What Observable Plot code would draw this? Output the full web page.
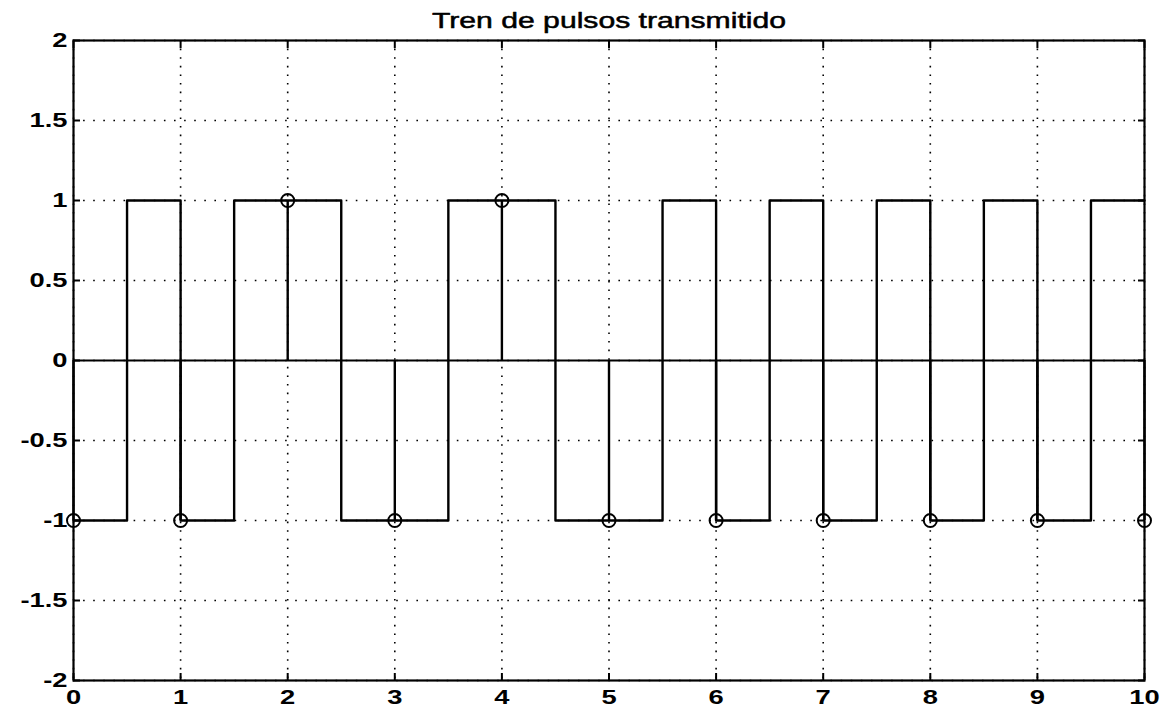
<!DOCTYPE html>
<html>
<head>
<meta charset="utf-8">
<script src="https://cdn.jsdelivr.net/npm/d3@7"></script>
<script src="https://cdn.jsdelivr.net/npm/@observablehq/plot@0.6"></script>
<style>
  html, body { margin: 0; padding: 0; background: #fff; }
  svg { display: block; }
  svg text { font-size: 21px; font-family: 'Liberation Sans', Arial, Helvetica, sans-serif; }
  svg text.title-text { font-size: 22px; }
</style>
</head>
<body>
<div id="chart"></div>
<script>
// Square wave (step-after): transition instants and levels
const waveX = [0, 0.5, 1, 1.5, 2.5, 3.5, 4.5, 5.5, 6, 6.5, 7, 7.5, 8, 8.5, 9, 9.5, 10];
const waveY = [-1, 1, -1, 1, -1, 1, -1, 1, -1, 1, -1, 1, -1, 1, -1, 1, 1];
// Sampled symbols (stem plot)
const sampleX = [0, 1, 2, 3, 4, 5, 6, 7, 8, 9, 10];
const sampleY = [-1, -1, 1, -1, 1, -1, -1, -1, -1, -1, -1];
// Tick labels
const xTicks = [0, 1, 2, 3, 4, 5, 6, 7, 8, 9, 10];
const yTicks = [-2, -1.5, -1, -0.5, 0, 0.5, 1, 1.5, 2];
const title = "Tren de pulsos transmitido";

const wave = waveX.map((x, i) => ({x, y: waveY[i]}));
const samples = sampleX.map((x, i) => ({x, y: sampleY[i]}));
const fmt = d => String(d);

const font = "'Liberation Sans', Arial, Helvetica, sans-serif";

const chart = Plot.plot({
  width: 1169,
  height: 712,
  marginLeft: 73,
  marginRight: 25,
  marginTop: 40,
  marginBottom: 32,
  style: {fontFamily: font, fontSize: "21px", color: "#000", background: "#fff"},
  x: {domain: [0, 10]},
  y: {domain: [-2, 2]},
  marks: [
    // dotted grid
    Plot.gridX(xTicks, {stroke: "#000", strokeOpacity: 1, strokeWidth: 1.6, strokeDasharray: "1.6,7"}),
    Plot.gridY(yTicks, {stroke: "#000", strokeOpacity: 1, strokeWidth: 1.6, strokeDasharray: "1.6,8.5"}),
    // baseline of the stems
    Plot.ruleY([0], {stroke: "#000", strokeWidth: 2.2}),
    // square wave
    Plot.line(wave, {x: "x", y: "y", curve: "step-after", stroke: "#000", strokeWidth: 2.4}),
    // stems
    Plot.ruleX(samples, {x: "x", y1: 0, y2: "y", stroke: "#000", strokeWidth: 2.4}),
    Plot.dot(samples, {x: "x", y: "y", r: 6.5, stroke: "#000", strokeWidth: 2, fill: "none"}),
    // axes: labels
    Plot.axisX(xTicks, {anchor: "bottom", tickSize: 0, tickPadding: 9, tickFormat: fmt, fontWeight: "bold", label: null}),
    Plot.axisY(yTicks, {anchor: "left", tickSize: 0, tickPadding: 6, tickFormat: fmt, fontWeight: "bold", label: null}),
    // inward tick marks on all four sides
    Plot.axisX(xTicks, {anchor: "bottom", tickSize: -7, text: null, strokeWidth: 2, label: null}),
    Plot.axisX(xTicks, {anchor: "top", tickSize: -7, text: null, strokeWidth: 2, label: null}),
    Plot.axisY(yTicks, {anchor: "left", tickSize: -7, text: null, strokeWidth: 2, label: null}),
    Plot.axisY(yTicks, {anchor: "right", tickSize: -7, text: null, strokeWidth: 2, label: null}),
    Plot.frame({stroke: "#000", strokeWidth: 2.2}),
    // title
    Plot.text([title], {frameAnchor: "top", dy: -28, fill: "#000", stroke: "#000", strokeWidth: 0.5, className: "title"})
  ]
});
document.getElementById("chart").appendChild(chart);

// mark the title text so it can get its own size
chart.querySelectorAll("text").forEach(t => {
  if (t.textContent === title) t.classList.add("title-text");
});

// the reference's lettering is horizontally wider: stretch each text glyph-wise
chart.querySelectorAll("text").forEach(t => {
  const w = t.getComputedTextLength();
  const k = t.textContent === title ? 1.37 : 1.3;
  if (w > 0) {
    t.setAttribute("textLength", (w * k).toFixed(1));
    t.setAttribute("lengthAdjust", "spacingAndGlyphs");
  }
});
</script>
</body>
</html>
